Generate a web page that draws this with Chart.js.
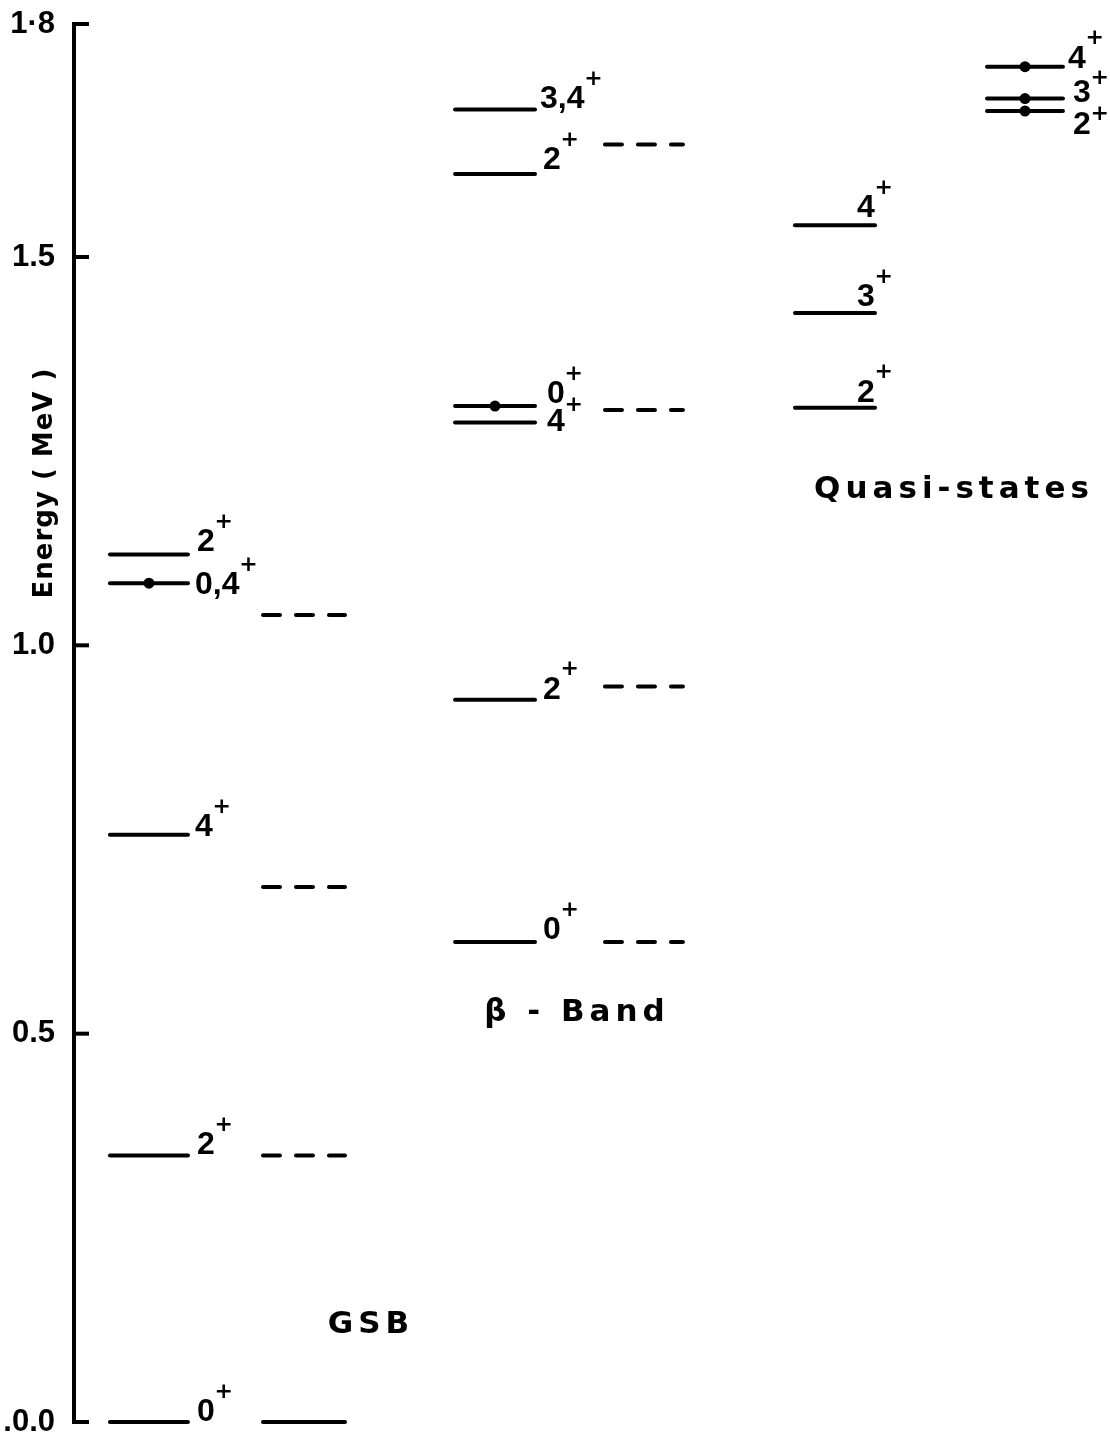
<!DOCTYPE html>
<html>
<head>
<meta charset="utf-8">
<script src="https://cdn.jsdelivr.net/npm/chart.js@4"></script>
<style>
  html, body { margin: 0; padding: 0; background: #fff; }
  .wrap { width: 1110px; height: 1433px; position: relative; }
</style>
</head>
<body>
<div class="wrap"><canvas id="levels"></canvas></div>
<script>
// level energies (MeV) and spin labels, one pair of arrays per column
const gsbExp = [0.000, 0.343, 0.756, 1.080, 1.117];
const gsbExpSpin = ['0', '2', '4', '0,4', '2'];
const gsbTh = [0.000, 0.343, 0.689, 1.039];

const betaExp = [0.618, 0.930, 1.287, 1.308, 1.607, 1.690];
const betaExpSpin = ['0', '2', '4', '0', '2', '3,4'];
const betaTh = [0.618, 0.947, 1.303, 1.645];

const quasiLow = [1.306, 1.428, 1.541];
const quasiLowSpin = ['2', '3', '4'];
const quasiHigh = [1.688, 1.704, 1.745];
const quasiHighSpin = ['2', '3', '4'];

const yTicks = [0, 0.5, 1.0, 1.5, 1.8];
const yTickLabels = ['.0.0', '0.5', '1.0', '1.5', '1\u00b78'];
const bandNames = ['GSB', '\u03b2 - Band', 'Quasi-states'];
const axisTitle = 'Energy ( MeV )';

const SANS = "'Liberation Sans', 'Noto Sans', sans-serif";
const WIDE = "'DejaVu Sans', sans-serif";

// where each column sits on the x scale (0..10) and how its labels are offset (px):
// [dx from line end, dy of text from line, dy of the "+" from text]
const columns = [
  { energies: gsbExp, spins: gsbExpSpin, span: [0.347, 1.100],
    dots: [false, false, false, true, false],
    place: [[9, -10], [9, -10], [7, -8], [7, 2], [9, -12]] },
  { energies: gsbTh, span: [1.824, 2.616], dashed: [false, true, true, true] },
  { energies: betaExp, spins: betaExpSpin, span: [3.678, 4.450],
    dots: [false, false, false, true, false, false],
    place: [[8, -12], [8, -10], [12, 0, -17], [12, -12], [8, -14], [5, -10]] },
  { energies: betaTh, span: [5.125, 5.878], dashed: [true, true, true, true] },
  { energies: quasiLow, spins: quasiLowSpin, span: [6.959, 7.732],
    place: [[-18, -15], [-18, -16], [-18, -17]] },
  { energies: quasiHigh, spins: quasiHighSpin, span: [8.813, 9.546],
    dots: [true, true, true],
    place: [[10, 14, -11], [10, -5, -15], [5, -8]] },
];

// band captions: [x on scale, energy]
const bandPos = [[2.867, 0.125], [4.855, 0.527], [8.494, 1.200]];

const datasets = [];
columns.forEach(col => {
  const [x0, x1] = col.span;
  col.energies.forEach((e, i) => {
    const dashed = col.dashed ? col.dashed[i] : false;
    const dot = col.dots ? col.dots[i] : false;
    datasets.push({
      data: [{x: x0, y: e}, {x: (x0 + x1) / 2, y: e}, {x: x1, y: e}],
      borderColor: '#000',
      borderWidth: 4,
      borderCapStyle: 'round',
      borderDash: dashed ? [17, 16] : [],
      pointRadius: dot ? [0, 5.5, 0] : 0,
      pointBackgroundColor: '#000',
      pointBorderWidth: 0,
      clip: false,
    });
  });
});

// short ticks pointing into the plot, spin labels, captions, axis title
const levelText = {
  id: 'levelText',
  afterDraw(chart) {
    const {ctx, scales: {x, y}} = chart;
    ctx.save();
    ctx.fillStyle = '#000';
    ctx.strokeStyle = '#000';
    ctx.lineWidth = 4;
    ctx.lineCap = 'square';
    yTicks.forEach(v => {
      const py = y.getPixelForValue(v);
      ctx.beginPath();
      ctx.moveTo(y.right, py);
      ctx.lineTo(y.right + 13, py);
      ctx.stroke();
    });

    ctx.textBaseline = 'middle';
    columns.forEach(col => {
      if (!col.spins) return;
      const xEnd = x.getPixelForValue(col.span[1]);
      col.spins.forEach((s, i) => {
        const [dx, dy, plusDy = -20] = col.place[i];
        const py = y.getPixelForValue(col.energies[i]) + dy;
        ctx.font = `bold 32px ${SANS}`;
        ctx.textAlign = 'left';
        ctx.fillText(s, xEnd + dx, py);
        const w = ctx.measureText(s).width;
        ctx.font = `bold 22px ${WIDE}`;
        ctx.textAlign = 'center';
        ctx.fillText('+', xEnd + dx + w + 9, py + plusDy);
      });
    });

    ctx.font = `bold 31px ${WIDE}`;
    ctx.letterSpacing = '5px';
    ctx.textAlign = 'center';
    bandNames.forEach((name, i) => {
      const [bx, be] = bandPos[i];
      ctx.fillText(name, x.getPixelForValue(bx), y.getPixelForValue(be));
    });

    ctx.font = `bold 26px ${WIDE}`;
    ctx.letterSpacing = '1px';
    ctx.translate(chart.chartArea.left - 29, y.getPixelForValue(1.209));
    ctx.rotate(-Math.PI / 2);
    ctx.fillText(axisTitle, 0, 0);
    ctx.restore();
  }
};

new Chart(document.getElementById('levels'), {
  type: 'line',
  data: { datasets },
  options: {
    responsive: true,
    maintainAspectRatio: false,
    animation: false,
    events: [],
    layout: { padding: { top: 24, bottom: 11, left: 0, right: 0 } },
    plugins: { legend: { display: false }, tooltip: { enabled: false } },
    scales: {
      x: { type: 'linear', min: 0, max: 10, display: false },
      y: {
        min: 0,
        max: 1.8,
        afterBuildTicks: s => { s.ticks = yTicks.map(v => ({ value: v })); },
        afterFit: s => { s.width = 74; s.paddingTop = 0; s.paddingBottom = 0; },
        ticks: {
          callback: (v, i) => yTickLabels[i],
          color: '#000',
          padding: 11,
          font: { family: SANS, size: 31, weight: 'bold' },
        },
        grid: { display: false },
        border: { display: true, color: '#000', width: 4 },
      }
    }
  },
  plugins: [levelText]
});
</script>
</body>
</html>
